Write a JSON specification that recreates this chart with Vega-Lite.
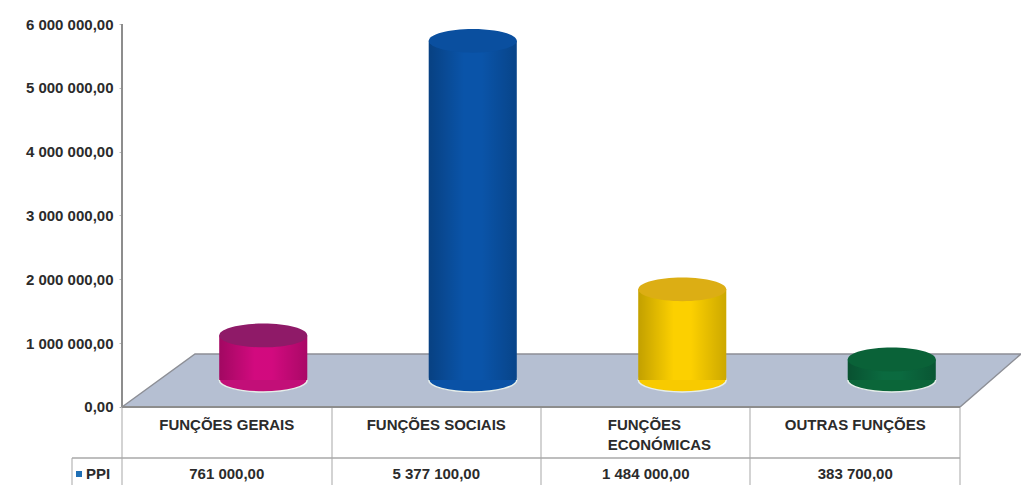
{
"$schema":"https://vega.github.io/schema/vega-lite/v6.json",
"width":899,"height":461,
"autosize":{"type":"none"},
"padding":{"left":122,"top":24,"right":0,"bottom":0},
"background":"white",
"config":{"view":{"stroke":null},"locale":{"number":{"decimal":",","thousands":" ","grouping":[3],"currency":["","€"]}},"text":{"font":"Liberation Sans"}},
"datasets":{
"bars":[
{"cat":"FUNÇÕES GERAIS","value":761000,"label":"FUNÇÕES GERAIS"},
{"cat":"FUNÇÕES SOCIAIS","value":5377100,"label":"FUNÇÕES SOCIAIS"},
{"cat":"FUNÇÕES ECONÓMICAS","value":1484000,"label":"FUNÇÕES"},
{"cat":"OUTRAS FUNÇÕES","value":383700,"label":"OUTRAS FUNÇÕES"}],
"floor":[
{"fx":0,"top":0,"bottom":0},
{"fx":73,"top":830000,"bottom":0},
{"fx":838,"top":830000,"bottom":0},
{"fx":899,"top":830000,"bottom":830000}],
"vlines":[
{"fx":-50,"y1":-800000,"y2":-1222000},
{"fx":0,"y1":0,"y2":-1222000},
{"fx":210,"y1":0,"y2":-1222000},
{"fx":419,"y1":0,"y2":-1222000},
{"fx":628,"y1":0,"y2":-1222000},
{"fx":838,"y1":0,"y2":-1222000}],
"hlines":[
{"x1":-50,"x2":838,"yv":-800000}],
"legend":[{"fx":-43,"name":"PPI"}]
},
"resolve":{"scale":{"x":"independent","color":"independent"}},
"layer":[
{"data":{"name":"floor"},
 "mark":{"type":"area","fill":"#b5bfd2","stroke":"#8d8f96","strokeWidth":1.5,"clip":false},
 "encoding":{
  "x":{"field":"fx","type":"quantitative","scale":{"domain":[0,899],"range":[0,899],"nice":false,"zero":false},"axis":null},
  "y":{"field":"top","type":"quantitative","scale":{"domain":[-1222000,6000000],"nice":false,"zero":false},
   "axis":{"title":null,"values":[0,1000000,2000000,3000000,4000000,5000000,6000000],"format":",.2f","grid":false,"domain":false,"tickSize":3,"tickColor":"#bbb","labelFont":"Liberation Sans","labelFontWeight":"bold","labelFontSize":15,"labelColor":"#2b2b2b","labelPadding":6}},
  "y2":{"field":"bottom"}}},
{"data":{"name":"vlines"},
 "mark":{"type":"rule","color":"#c4c4c4","strokeWidth":1.5},
 "encoding":{
  "x":{"field":"fx","type":"quantitative","scale":{"domain":[0,899],"range":[0,899],"nice":false,"zero":false},"axis":null},
  "y":{"field":"y1","type":"quantitative"},"y2":{"field":"y2"}}},
{"data":{"name":"hlines"},
 "mark":{"type":"rule","color":"#a8a8a8","strokeWidth":1.5},
 "encoding":{
  "x":{"field":"x1","type":"quantitative","scale":{"domain":[0,899],"range":[0,899],"nice":false,"zero":false},"axis":null},
  "x2":{"field":"x2"},
  "y":{"field":"yv","type":"quantitative"}}},
{"data":{"values":[{"fx":0,"fx2":838,"a":0,"b":0},{"fx":0,"fx2":0,"a":0,"b":6000000}]},
 "mark":{"type":"rule","color":"#8d8d8d","strokeWidth":2},
 "encoding":{
  "x":{"field":"fx","type":"quantitative","scale":{"domain":[0,899],"range":[0,899],"nice":false,"zero":false},"axis":null},
  "x2":{"field":"fx2"},
  "y":{"field":"a","type":"quantitative"},"y2":{"field":"b"}}},
{"data":{"name":"bars"},
 "mark":{"type":"point","shape":"M -1 0 A 1 0.27 0 1 1 1 0 A 1 0.27 0 1 1 -1 0 Z","filled":true,"size":7744,"opacity":1,"xOffset":36.5,"yOffset":-27,"stroke":"#e6eeea","strokeWidth":1.5},
 "encoding":{
  "x":{"field":"cat","type":"nominal","sort":null,"scale":{"type":"band","domain":["FUNÇÕES GERAIS","FUNÇÕES SOCIAIS","FUNÇÕES ECONÓMICAS","OUTRAS FUNÇÕES"],"range":[0,838],"paddingInner":0,"paddingOuter":0},"axis":null},
  "y":{"datum":0,"type":"quantitative"},
  "color":{"field":"cat","type":"nominal","sort":null,"legend":null,"scale":{"domain":["FUNÇÕES GERAIS","FUNÇÕES SOCIAIS","FUNÇÕES ECONÓMICAS","OUTRAS FUNÇÕES"],"range":["#c20f78","#0a52a6","#f8ca00","#0b6639"]}}}},
{"data":{"name":"bars"},
 "mark":{"type":"bar","width":88,"xOffset":36.5,"yOffset":-23,"y2Offset":-27},
 "encoding":{
  "x":{"field":"cat","type":"nominal","sort":null,"scale":{"type":"band","domain":["FUNÇÕES GERAIS","FUNÇÕES SOCIAIS","FUNÇÕES ECONÓMICAS","OUTRAS FUNÇÕES"],"range":[0,838],"paddingInner":0,"paddingOuter":0},"axis":null},
  "y":{"field":"value","type":"quantitative"},"y2":{"datum":0},
  "color":{"field":"cat","type":"nominal","sort":null,"legend":null,"scale":{"domain":["FUNÇÕES GERAIS","FUNÇÕES SOCIAIS","FUNÇÕES ECONÓMICAS","OUTRAS FUNÇÕES"],"range":["#d40a80","#0a55ab","#ffd200","#0b6b40"]}}}},
{"data":{"name":"bars"},
 "mark":{"type":"bar","width":88,"xOffset":36.5,"yOffset":-23,"y2Offset":-27,"fill":{"gradient":"linear","x1":0,"y1":0,"x2":1,"y2":0,"stops":[{"offset":0,"color":"rgba(0,0,0,0.24)"},{"offset":0.4,"color":"rgba(0,0,0,0.01)"},{"offset":0.6,"color":"rgba(0,0,0,0.01)"},{"offset":1,"color":"rgba(0,0,0,0.2)"}]}},
 "encoding":{
  "x":{"field":"cat","type":"nominal","sort":null,"scale":{"type":"band","domain":["FUNÇÕES GERAIS","FUNÇÕES SOCIAIS","FUNÇÕES ECONÓMICAS","OUTRAS FUNÇÕES"],"range":[0,838],"paddingInner":0,"paddingOuter":0},"axis":null},
  "y":{"field":"value","type":"quantitative"},"y2":{"datum":0}}},
{"data":{"name":"bars"},
 "mark":{"type":"point","shape":"M -1 0 A 1 0.27 0 1 1 1 0 A 1 0.27 0 1 1 -1 0 Z","filled":true,"size":7744,"opacity":1,"xOffset":36.5,"yOffset":-23},
 "encoding":{
  "x":{"field":"cat","type":"nominal","sort":null,"scale":{"type":"band","domain":["FUNÇÕES GERAIS","FUNÇÕES SOCIAIS","FUNÇÕES ECONÓMICAS","OUTRAS FUNÇÕES"],"range":[0,838],"paddingInner":0,"paddingOuter":0},"axis":null},
  "y":{"field":"value","type":"quantitative"},
  "color":{"field":"cat","type":"nominal","sort":null,"legend":null,"scale":{"domain":["FUNÇÕES GERAIS","FUNÇÕES SOCIAIS","FUNÇÕES ECONÓMICAS","OUTRAS FUNÇÕES"],"range":["#8f1a68","#0a4f9f","#dcae14","#0a6238"]}}}},
{"data":{"name":"bars"},
 "transform":[{"filter":"datum.label !== 'FUNÇÕES'"}],
 "mark":{"type":"text","fontWeight":"bold","fontSize":15,"color":"#2b2b2b","font":"Liberation Sans"},
 "encoding":{
  "x":{"field":"cat","type":"nominal","sort":null,"scale":{"type":"band","domain":["FUNÇÕES GERAIS","FUNÇÕES SOCIAIS","FUNÇÕES ECONÓMICAS","OUTRAS FUNÇÕES"],"range":[0,838],"paddingInner":0,"paddingOuter":0},"axis":null},
  "y":{"datum":-282000,"type":"quantitative"},
  "text":{"field":"label"}}},
{"data":{"name":"bars"},
 "transform":[{"filter":"datum.label === 'FUNÇÕES'"}],
 "mark":{"type":"text","fontWeight":"bold","fontSize":15,"color":"#2b2b2b","font":"Liberation Sans","align":"left","xOffset":-38},
 "encoding":{
  "x":{"field":"cat","type":"nominal","sort":null,"scale":{"type":"band","domain":["FUNÇÕES GERAIS","FUNÇÕES SOCIAIS","FUNÇÕES ECONÓMICAS","OUTRAS FUNÇÕES"],"range":[0,838],"paddingInner":0,"paddingOuter":0},"axis":null},
  "y":{"datum":-282000,"type":"quantitative"},
  "text":{"field":"label"}}},
{"data":{"name":"bars"},
 "transform":[{"filter":"datum.label === 'FUNÇÕES'"}],
 "mark":{"type":"text","fontWeight":"bold","fontSize":15,"color":"#2b2b2b","font":"Liberation Sans","align":"left","xOffset":-38},
 "encoding":{
  "x":{"field":"cat","type":"nominal","sort":null,"scale":{"type":"band","domain":["FUNÇÕES GERAIS","FUNÇÕES SOCIAIS","FUNÇÕES ECONÓMICAS","OUTRAS FUNÇÕES"],"range":[0,838],"paddingInner":0,"paddingOuter":0},"axis":null},
  "y":{"datum":-590000,"type":"quantitative"},
  "text":{"value":"ECONÓMICAS"}}},
{"data":{"name":"bars"},
 "mark":{"type":"text","fontWeight":"bold","fontSize":15,"color":"#2b2b2b","font":"Liberation Sans"},
 "encoding":{
  "x":{"field":"cat","type":"nominal","sort":null,"scale":{"type":"band","domain":["FUNÇÕES GERAIS","FUNÇÕES SOCIAIS","FUNÇÕES ECONÓMICAS","OUTRAS FUNÇÕES"],"range":[0,838],"paddingInner":0,"paddingOuter":0},"axis":null},
  "y":{"datum":-1050000,"type":"quantitative"},
  "text":{"field":"value","type":"quantitative","format":",.2f"}}},
{"data":{"name":"legend"},
 "mark":{"type":"square","size":36,"color":"#1f6fb5","opacity":1},
 "encoding":{
  "x":{"field":"fx","type":"quantitative","scale":{"domain":[0,899],"range":[0,899],"nice":false,"zero":false},"axis":null},
  "y":{"datum":-1050000,"type":"quantitative"}}},
{"data":{"name":"legend"},
 "mark":{"type":"text","fontWeight":"bold","fontSize":15,"color":"#2b2b2b","font":"Liberation Sans","align":"left","xOffset":7},
 "encoding":{
  "x":{"field":"fx","type":"quantitative","scale":{"domain":[0,899],"range":[0,899],"nice":false,"zero":false},"axis":null},
  "y":{"datum":-1050000,"type":"quantitative"},
  "text":{"field":"name"}}}
]
}
